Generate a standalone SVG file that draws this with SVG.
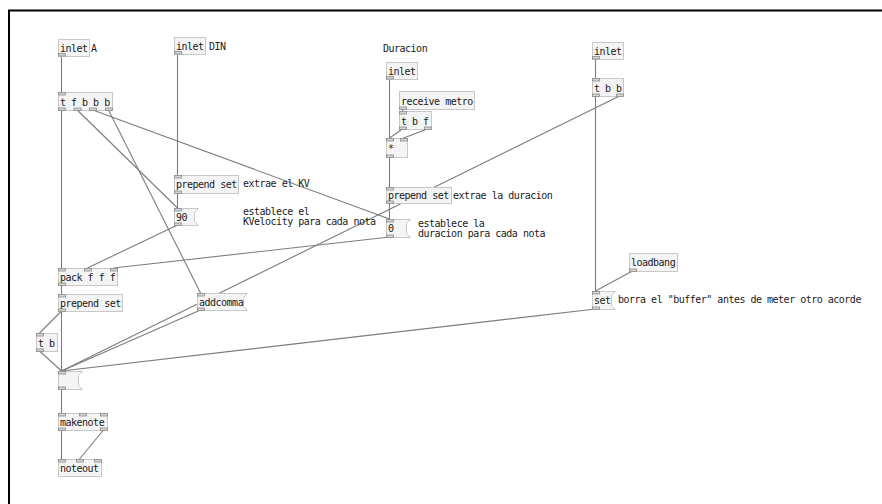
<svg xmlns="http://www.w3.org/2000/svg" width="882" height="504" viewBox="0 0 882 504">
<style>
.b{fill:#f4f4f4;stroke:#c8c8c8;stroke-width:1}
.p{fill:#d4d4d4;stroke:#8a8a8a;stroke-width:0.8}
.t{font-family:"DejaVu Sans Mono","Liberation Mono",monospace;font-size:10px;letter-spacing:-0.5px;fill:#1a1a1a}
.c{stroke:#7c7c7c;stroke-width:1.1;fill:none}
</style>
<rect width="882" height="504" fill="#fff"/>
<path d="M9 504 V10.5 H882" fill="none" stroke="#000" stroke-width="2"/>
<g id="connectors">
<line class="c" x1="61.5" y1="56" x2="61.5" y2="92"/>
<line class="c" x1="61.5" y1="110" x2="61.5" y2="268"/>
<line class="c" x1="77.2" y1="110" x2="177.5" y2="208"/>
<line class="c" x1="92.8" y1="110" x2="389.5" y2="219"/>
<line class="c" x1="108.5" y1="110" x2="200.5" y2="293"/>
<line class="c" x1="177.5" y1="54" x2="177.5" y2="175"/>
<line class="c" x1="177.5" y1="193" x2="177.5" y2="208"/>
<line class="c" x1="177.5" y1="225" x2="87.5" y2="268"/>
<line class="c" x1="389.5" y1="237" x2="113.5" y2="268"/>
<line class="c" x1="61.5" y1="285" x2="61.5" y2="294"/>
<line class="c" x1="61.5" y1="311" x2="61.5" y2="371"/>
<line class="c" x1="61.5" y1="311" x2="39.5" y2="333"/>
<line class="c" x1="39.5" y1="351" x2="61.5" y2="371"/>
<line class="c" x1="200.5" y1="310" x2="61.5" y2="371"/>
<line class="c" x1="619.5" y1="96" x2="61.5" y2="371"/>
<line class="c" x1="595.5" y1="309" x2="61.5" y2="371"/>
<line class="c" x1="61.5" y1="389" x2="61.5" y2="413"/>
<line class="c" x1="61.5" y1="430" x2="61.5" y2="459"/>
<line class="c" x1="103.5" y1="430" x2="79.5" y2="459"/>
<line class="c" x1="389.5" y1="79" x2="389.5" y2="138"/>
<line class="c" x1="402.5" y1="109" x2="402.5" y2="111"/>
<line class="c" x1="402.5" y1="129" x2="389.5" y2="138"/>
<line class="c" x1="427.5" y1="129" x2="403.5" y2="138"/>
<line class="c" x1="389.5" y1="157" x2="389.5" y2="187"/>
<line class="c" x1="389.5" y1="203" x2="389.5" y2="219"/>
<line class="c" x1="595.5" y1="59" x2="595.5" y2="78"/>
<line class="c" x1="595.5" y1="96" x2="595.5" y2="291"/>
<line class="c" x1="632.5" y1="271" x2="595.5" y2="291"/>
</g>
<g id="inletA">
<rect class="b" x="58.5" y="39.5" width="31" height="17"/>
<rect class="p" x="58.5" y="53.5" width="7" height="2.5"/>
<text class="t" x="60" y="52">inlet</text>
<text class="t" x="91" y="52">A</text>
</g>
<g id="inletDIN">
<rect class="b" x="174.5" y="37.5" width="31" height="17"/>
<rect class="p" x="174.5" y="51.5" width="7" height="2.5"/>
<text class="t" x="176" y="50">inlet</text>
<text class="t" x="209" y="50">DIN</text>
</g>
<g id="tfbbb">
<rect class="b" x="58.5" y="92.5" width="54" height="18"/>
<rect class="p" x="58.5" y="92.5" width="7" height="2.5"/>
<rect class="p" x="58.5" y="108" width="7" height="2.5"/>
<rect class="p" x="74" y="108" width="7" height="2.5"/>
<rect class="p" x="89.5" y="108" width="7" height="2.5"/>
<rect class="p" x="105.5" y="108" width="7" height="2.5"/>
<text class="t" x="60" y="105.5">t f b b b</text>
</g>
<g id="prependKV">
<rect class="b" x="174.5" y="175.5" width="64" height="18"/>
<rect class="p" x="174.5" y="175.5" width="7" height="2.5"/>
<rect class="p" x="174.5" y="191" width="7" height="2.5"/>
<text class="t" x="176" y="188">prepend set</text>
<text class="t" x="243" y="187">extrae el KV</text>
</g>
<g id="msg90">
<path class="b" d="M174.5 208.5 H198.5 L194.5 212.5 V221.5 L198.5 225.5 H174.5 Z"/>
<rect class="p" x="174.5" y="208.5" width="7" height="2.5"/>
<rect class="p" x="174.5" y="223" width="7" height="2.5"/>
<text class="t" x="176" y="221">90</text>
<text class="t" x="243" y="215">establece el</text>
<text class="t" x="243" y="224.5">KVelocity para cada nota</text>
</g>
<g id="duracion">
<text class="t" x="383" y="52">Duracion</text>
</g>
<g id="inletDur">
<rect class="b" x="386.5" y="62.5" width="31" height="17"/>
<rect class="p" x="386.5" y="76.5" width="7" height="2.5"/>
<text class="t" x="388" y="75">inlet</text>
</g>
<g id="receive">
<rect class="b" x="399.5" y="91.5" width="75" height="18"/>
<rect class="p" x="399.5" y="107" width="7" height="2.5"/>
<text class="t" x="401" y="104.5">receive metro</text>
</g>
<g id="tbf">
<rect class="b" x="399.5" y="111.5" width="32" height="18"/>
<rect class="p" x="399.5" y="111.5" width="7" height="2.5"/>
<rect class="p" x="399.5" y="127" width="7" height="2.5"/>
<rect class="p" x="424.5" y="127" width="7" height="2.5"/>
<text class="t" x="401" y="124.5">t b f</text>
</g>
<g id="mul">
<rect class="b" x="386.5" y="138.5" width="21" height="19"/>
<rect class="p" x="386.5" y="138.5" width="7" height="2.5"/>
<rect class="p" x="400.5" y="138.5" width="7" height="2.5"/>
<rect class="p" x="386.5" y="155" width="7" height="2.5"/>
<text class="t" x="388" y="152">*</text>
</g>
<g id="prependDur">
<rect class="b" x="386.5" y="187.5" width="65" height="16"/>
<rect class="p" x="386.5" y="187.5" width="7" height="2.5"/>
<rect class="p" x="386.5" y="201" width="7" height="2.5"/>
<text class="t" x="388" y="199">prepend set</text>
<text class="t" x="453" y="198.5">extrae la duracion</text>
</g>
<g id="msg0">
<path class="b" d="M386.5 219.5 H410.5 L406.5 223.5 V233.5 L410.5 237.5 H386.5 Z"/>
<rect class="p" x="386.5" y="219.5" width="7" height="2.5"/>
<rect class="p" x="386.5" y="235" width="7" height="2.5"/>
<text class="t" x="388" y="232">0</text>
<text class="t" x="418" y="227">establece la</text>
<text class="t" x="418" y="237">duracion para cada nota</text>
</g>
<g id="inletR">
<rect class="b" x="592.5" y="42.5" width="31" height="17"/>
<rect class="p" x="592.5" y="56.5" width="7" height="2.5"/>
<text class="t" x="594" y="55">inlet</text>
</g>
<g id="tbb">
<rect class="b" x="592.5" y="78.5" width="31" height="18"/>
<rect class="p" x="592.5" y="78.5" width="7" height="2.5"/>
<rect class="p" x="592.5" y="94" width="7" height="2.5"/>
<rect class="p" x="616.5" y="94" width="7" height="2.5"/>
<text class="t" x="594" y="91.5">t b b</text>
</g>
<g id="loadbang">
<rect class="b" x="629.5" y="253.5" width="48" height="18"/>
<rect class="p" x="629.5" y="269" width="7" height="2.5"/>
<text class="t" x="631" y="266">loadbang</text>
</g>
<g id="setmsg">
<path class="b" d="M592.5 291.5 H615.5 L611.5 295.5 V305.5 L615.5 309.5 H592.5 Z"/>
<rect class="p" x="592.5" y="291.5" width="7" height="2.5"/>
<rect class="p" x="592.5" y="307" width="7" height="2.5"/>
<text class="t" x="594" y="304">set</text>
<text class="t" x="618" y="303">borra el "buffer" antes de meter otro acorde</text>
</g>
<g id="pack">
<rect class="b" x="58.5" y="268.5" width="59" height="17"/>
<rect class="p" x="58.5" y="268.5" width="7" height="2.5"/>
<rect class="p" x="84.5" y="268.5" width="7" height="2.5"/>
<rect class="p" x="110.5" y="268.5" width="7" height="2.5"/>
<rect class="p" x="58.5" y="283" width="7" height="2.5"/>
<text class="t" x="60" y="281">pack f f f</text>
</g>
<g id="prepend2">
<rect class="b" x="58.5" y="294.5" width="64" height="17"/>
<rect class="p" x="58.5" y="294.5" width="7" height="2.5"/>
<rect class="p" x="58.5" y="309" width="7" height="2.5"/>
<text class="t" x="60" y="307">prepend set</text>
</g>
<g id="addcomma">
<path class="b" d="M197.5 293.5 H247.5 L243.5 297.5 V306.5 L247.5 310.5 H197.5 Z"/>
<rect class="p" x="197.5" y="293.5" width="7" height="2.5"/>
<rect class="p" x="197.5" y="308" width="7" height="2.5"/>
<text class="t" x="199" y="306">addcomma</text>
</g>
<g id="tb">
<rect class="b" x="36.5" y="333.5" width="21" height="18"/>
<rect class="p" x="36.5" y="333.5" width="7" height="2.5"/>
<rect class="p" x="36.5" y="349" width="7" height="2.5"/>
<text class="t" x="38" y="346.5">t b</text>
</g>
<g id="msgbuf">
<path class="b" d="M58.5 371.5 H82.5 L78.5 375.5 V385.5 L82.5 389.5 H58.5 Z"/>
<rect class="p" x="58.5" y="371.5" width="7" height="2.5"/>
<rect class="p" x="58.5" y="387" width="7" height="2.5"/>
</g>
<g id="makenote">
<rect class="b" x="58.5" y="413.5" width="49" height="17"/>
<rect class="p" x="58.5" y="413.5" width="7" height="2.5"/>
<rect class="p" x="79.5" y="413.5" width="7" height="2.5"/>
<rect class="p" x="100.5" y="413.5" width="7" height="2.5"/>
<rect class="p" x="58.5" y="428" width="7" height="2.5"/>
<rect class="p" x="100.5" y="428" width="7" height="2.5"/>
<text class="t" x="60" y="426">makenote</text>
</g>
<g id="noteout">
<rect class="b" x="58.5" y="459.5" width="43" height="17"/>
<rect class="p" x="58.5" y="459.5" width="7" height="2.5"/>
<rect class="p" x="76.5" y="459.5" width="7" height="2.5"/>
<rect class="p" x="94.5" y="459.5" width="7" height="2.5"/>
<text class="t" x="60" y="472">noteout</text>
</g>
</svg>
